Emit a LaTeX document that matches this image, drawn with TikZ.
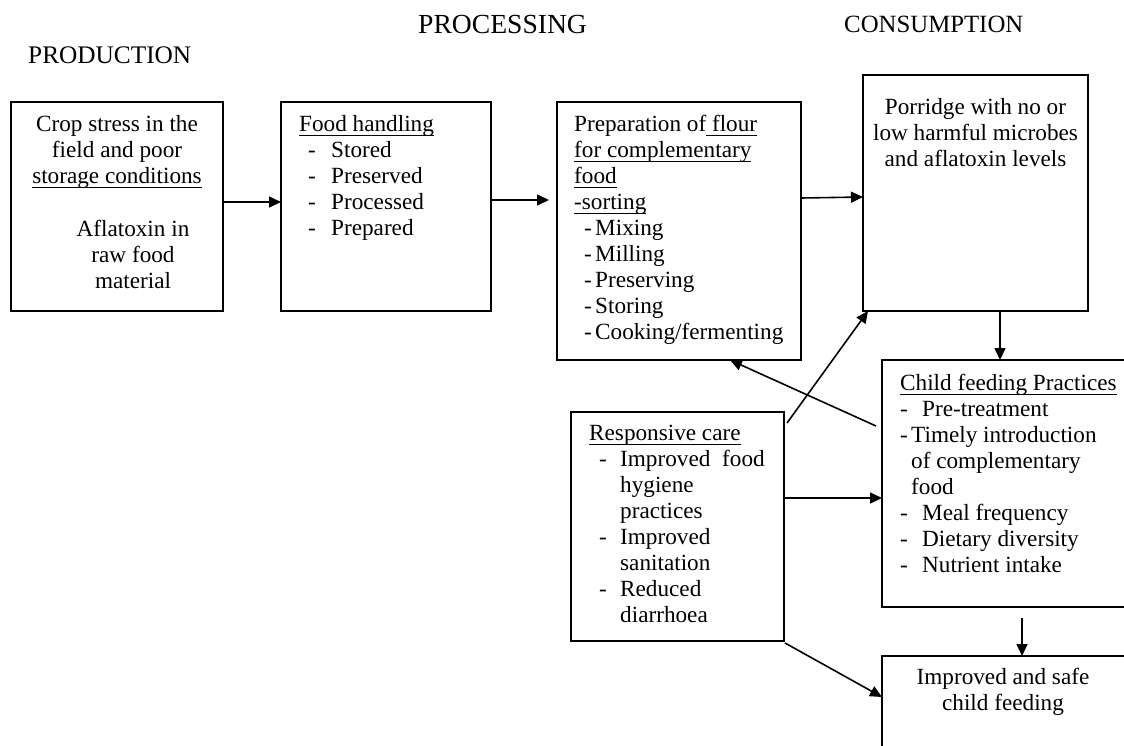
\documentclass[tikz,border=0pt]{standalone}
\usepackage{fontspec}
\setmainfont{Liberation Serif}
\usetikzlibrary{arrows.meta,calc}

% underline drawn just below the baseline
\newcommand\undl[1]{\setbox0\hbox{#1}\rlap{\rule[-4.5pt]{\wd0}{1pt}}\box0}
% list item: indent, dash box width, text
\newcommand\itm[3]{\hspace*{#1}\makebox[#2][l]{-}#3}
% strut fixing the first baseline 18pt below the node top
\newcommand\st{\rule{0pt}{18pt}}

\tikzset{
  box/.style={draw, line width=2pt, inner sep=0pt, outer sep=0pt},
  txt/.style={inner sep=0pt, font=\fontsize{23.2}{26}\selectfont},
  lefttxt/.style={txt, anchor=north west, align=left},
  midtxt/.style={txt, anchor=north, align=center},
  arr/.style={line width=1.6pt, -{Triangle[length=12pt,width=11pt]}},
}

\begin{document}
\begin{tikzpicture}[x=1pt,y=-1pt]
\useasboundingbox (0,0) rectangle (1124,745);
\clip (0,0) rectangle (1124,745);

% stage headings
\node[inner sep=0pt, anchor=base west, font=\fontsize{25.3}{28}\selectfont] (hprod) at (28,63) {PRODUCTION};
\node[inner sep=0pt, anchor=base west, font=\fontsize{27.6}{30}\selectfont] (hproc) at (418,33) {PROCESSING};
\node[inner sep=0pt, anchor=base west, font=\fontsize{24.8}{28}\selectfont] (hcons) at (844,32) {CONSUMPTION};

% frames
\node[box, minimum width=212pt, minimum height=209pt] (b1) at (117,206.5) {};
\node[box, minimum width=210pt, minimum height=209pt] (b2) at (386,206.5) {};
\node[box, minimum width=244pt, minimum height=258pt] (b3) at (679,231) {};
\node[box, minimum width=225pt, minimum height=236pt] (b4) at (975.5,193) {};
\node[box, minimum width=258pt, minimum height=247pt] (b5) at (1011,483.5) {};
\node[box, minimum width=213pt, minimum height=229pt] (b6) at (677.5,526.5) {};
\node[box, minimum width=258pt, minimum height=110pt] (b7) at (1011,711) {};

% production
\node[midtxt] (t1a) at (117,113) {\st Crop stress in the\\ field and poor\\ \undl{storage conditions}};
\node[midtxt] (t1b) at (133,218) {\st Aflatoxin in\\ raw food\\ material};

% food handling
\node[lefttxt] (t2) at (299,113) {\st\undl{Food handling}\\
  \itm{9pt}{23pt}{Stored}\\
  \itm{9pt}{23pt}{Preserved}\\
  \itm{9pt}{23pt}{Processed}\\
  \itm{9pt}{23pt}{Prepared}};

% flour preparation
\node[lefttxt] (t3) at (574,113) {\st Preparation of\undl{ flour}\\
  \undl{for complementary}\\
  \undl{food}\\
  \undl{-sorting}\\
  \itm{10pt}{11pt}{Mixing}\\
  \itm{10pt}{11pt}{Milling}\\
  \itm{10pt}{11pt}{Preserving}\\
  \itm{10pt}{11pt}{Storing}\\
  \itm{10pt}{11pt}{Cooking/fermenting}};

% porridge
\node[midtxt] (t4) at (975.5,96) {\st Porridge with no or\\ low harmful microbes\\ and aflatoxin levels};

% child feeding practices
\node[lefttxt] (t5) at (900,372) {\st\undl{Child feeding Practices}\\
  \itm{0pt}{22pt}{Pre-treatment}\\
  \itm{0pt}{11pt}{Timely introduction}\\
  \hspace*{11pt}of complementary\\
  \hspace*{11pt}food\\
  \itm{0pt}{22pt}{Meal frequency}\\
  \itm{0pt}{22pt}{Dietary diversity}\\
  \itm{0pt}{22pt}{Nutrient intake}};

% responsive care
\node[lefttxt] (t6) at (589,422) {\st\undl{Responsive care}\\
  \itm{10pt}{21pt}{\makebox[102pt][l]{Improved}food}\\
  \hspace*{31pt}hygiene\\
  \hspace*{31pt}practices\\
  \itm{10pt}{21pt}{Improved}\\
  \hspace*{31pt}sanitation\\
  \itm{10pt}{21pt}{Reduced}\\
  \hspace*{31pt}diarrhoea};

% outcome
\node[midtxt] (t7) at (1003,666) {\st Improved and safe\\ child feeding};

% connector start points
\coordinate (s53) at (876,426);
\coordinate (s64) at (787,423);
\coordinate (s67) at (785,643);
\coordinate (s57) at (1022,618);

% connectors
\draw[arr] (b1.east |- 0,202) -- (b2.west |- 0,202);
\draw[arr, shorten >=8pt] (b2.east |- 0,200) -- (b3.west |- 0,200);
\draw[arr] (b3.east |- 0,198) -- (b4.west |- 0,197);
\draw[arr] (b4.south -| 1000,0) -- (b5.north -| 1000,0);
\draw[arr] (s53) -- (b3.south -| 730,0);
\draw[arr] (s64) -- (b4.south -| 868,0);
\draw[arr] (b6.east |- 0,498) -- (b5.west |- 0,498);
\draw[arr] (s67) -- (b7.west |- 0,697);
\draw[arr] (s57) -- (b7.north -| 1022,0);
\end{tikzpicture}
\end{document}
